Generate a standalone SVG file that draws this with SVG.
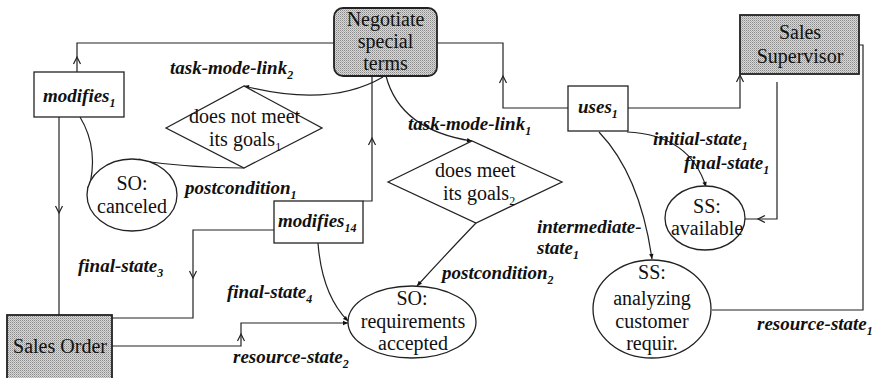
<svg xmlns="http://www.w3.org/2000/svg" width="879" height="378" viewBox="0 0 879 378">
<style>
.box{fill:#fff;stroke:#222;stroke-width:1.3}
.gray{fill:url(#stip);stroke:#222;stroke-width:1.8}
.t{font-family:"Liberation Serif","Times New Roman",serif;font-size:20px;fill:#111}
.i{font-family:"Liberation Serif","Times New Roman",serif;font-size:19px;font-style:italic;font-weight:bold;fill:#111}
.sub{font-size:12px}
.ln{fill:none;stroke:#222;stroke-width:1.2}
.ch{fill:none;stroke:none}
</style>
<defs>
<pattern id="stip" width="2" height="2" patternUnits="userSpaceOnUse">
<rect width="2" height="2" fill="#d8d8d8"/>
<rect width="1" height="1" fill="#8a8a8a"/>
<rect x="1" y="1" width="1" height="1" fill="#b0b0b0"/>
</pattern>
<marker id="chev" markerUnits="userSpaceOnUse" markerWidth="12" markerHeight="12" viewBox="-8 -6 10 12" refX="0" refY="0" orient="auto">
<path d="M-7,-3.5 L0,0 L-7,3.5" fill="none" stroke="#222" stroke-width="1.2"/>
</marker>
<marker id="dot" markerUnits="userSpaceOnUse" markerWidth="8" markerHeight="8" viewBox="-6 -4 8 8" refX="0" refY="0" orient="auto">
<path d="M-5,-2.2 L0,0 L-5,2.2 z" fill="#111"/>
</marker>
</defs>
<rect width="879" height="378" fill="#fff"/>

<g id="connectors">
<path class="ln" d="M77 72 V43 H334"/>
<path class="ch" d="M77 64 V57" marker-end="url(#chev)"/>
<path class="ln" d="M568 108 H503 V43 H437"/>
<path class="ch" d="M503 84 V76" marker-end="url(#chev)"/>
<path class="ln" d="M628 108 H740 V75" marker-end="url(#chev)"/>
<path class="ln" d="M777 82 V219 H745"/>
<path class="ch" d="M766 219 H758" marker-end="url(#chev)"/>
<path class="ln" d="M859 45 H863 V310 H712"/>
<path class="ln" d="M59 117 V315"/>
<path class="ch" d="M59 205 V213" marker-end="url(#chev)"/>
<path class="ln" d="M112 318 H193 V230 H274"/>
<path class="ch" d="M193 270 V278" marker-end="url(#chev)"/>
<path class="ln" d="M112 346 H241 V323 H348" marker-end="url(#dot)"/>
<path class="ch" d="M241 342 V334" marker-end="url(#chev)"/>
<path class="ln" d="M363 201 H372 V76"/>
<path class="ch" d="M372 146 V138" marker-end="url(#chev)"/>
<path class="ln" d="M383 77 Q330 108 244 86" marker-end="url(#dot)"/>
<path class="ln" d="M244 168 Q190 168 135 160" marker-end="url(#dot)"/>
<path class="ln" d="M80 117 Q100 150 88 192" marker-end="url(#dot)"/>
<path class="ln" d="M627 132 Q690 135 706 187" marker-end="url(#dot)"/>
<path class="ln" d="M599 132 Q640 175 652 259" marker-end="url(#dot)"/>
<path class="ln" d="M318 243 Q322 295 348 321" marker-end="url(#dot)"/>
<path class="ln" d="M386 76 Q400 130 472 141" marker-end="url(#dot)"/>
<path class="ln" d="M476 223 Q450 250 417 286" marker-end="url(#dot)"/>
</g>

<g id="labels">
<text class="i" x="170" y="74">task-mode-link<tspan class="sub" dy="5">2</tspan></text>
<text class="i" x="185" y="194">postcondition<tspan class="sub" dy="5">1</tspan></text>
<text class="i" x="408" y="130">task-mode-link<tspan class="sub" dy="5">1</tspan></text>
<text class="i" x="653" y="145">initial-state<tspan class="sub" dy="5">1</tspan></text>
<text class="i" x="684" y="169">final-state<tspan class="sub" dy="5">1</tspan></text>
<text class="i" x="537" y="233">intermediate-</text>
<text class="i" x="537" y="254">state<tspan class="sub" dy="5">1</tspan></text>
<text class="i" x="442" y="279">postcondition<tspan class="sub" dy="5">2</tspan></text>
<text class="i" x="78" y="272">final-state<tspan class="sub" dy="5">3</tspan></text>
<text class="i" x="227" y="298">final-state<tspan class="sub" dy="5">4</tspan></text>
<text class="i" x="233" y="363">resource-state<tspan class="sub" dy="5">2</tspan></text>
<text class="i" x="757" y="330">resource-state<tspan class="sub" dy="5">1</tspan></text>
</g>

<g id="negotiate">
<rect class="gray" x="334" y="8" width="103" height="68" rx="9"/>
<text class="t" x="385.5" y="26" text-anchor="middle">Negotiate</text>
<text class="t" x="385.5" y="48" text-anchor="middle">special</text>
<text class="t" x="385.5" y="70" text-anchor="middle">terms</text>
</g>
<g id="sales-supervisor">
<rect class="gray" x="740" y="15" width="119" height="59"/>
<text class="t" x="800" y="39" text-anchor="middle">Sales</text>
<text class="t" x="800" y="63" text-anchor="middle">Supervisor</text>
</g>
<g id="sales-order">
<rect class="gray" x="7" y="315" width="105" height="72"/>
<text class="t" x="60" y="353" text-anchor="middle">Sales Order</text>
</g>
<g id="modifies1">
<rect class="box" x="34" y="72" width="90" height="45"/>
<text class="i" x="43" y="102">modifies<tspan class="sub" dy="5">1</tspan></text>
</g>
<g id="uses1">
<rect class="box" x="568" y="86" width="60" height="45"/>
<text class="i" x="578" y="113">uses<tspan class="sub" dy="5">1</tspan></text>
</g>
<g id="modifies14">
<rect class="box" x="274" y="201" width="89" height="42"/>
<text class="i" x="278" y="227">modifies<tspan class="sub" dy="5">14</tspan></text>
</g>
<g id="does-not-meet">
<polygon class="box" points="166,128 244,86 322,128 244,168"/>
<text class="t" x="189" y="123">does not meet</text>
<text class="t" x="209" y="146">its goals<tspan class="sub" dy="5">1</tspan></text>
</g>
<g id="does-meet">
<polygon class="box" points="388,182 472,141 562,182 476,223"/>
<text class="t" x="435" y="177">does meet</text>
<text class="t" x="443" y="200">its goals<tspan class="sub" dy="5">2</tspan></text>
</g>
<g id="so-canceled">
<ellipse class="box" cx="132" cy="195" rx="45" ry="36"/>
<text class="t" x="132" y="190" text-anchor="middle">SO:</text>
<text class="t" x="132" y="213" text-anchor="middle">canceled</text>
</g>
<g id="so-requirements">
<ellipse class="box" cx="412" cy="322" rx="64" ry="36"/>
<text class="t" x="412" y="305" text-anchor="middle">SO:</text>
<text class="t" x="413" y="328" text-anchor="middle">requirements</text>
<text class="t" x="413" y="350" text-anchor="middle">accepted</text>
</g>
<g id="ss-available">
<ellipse class="box" cx="705" cy="218" rx="40" ry="32"/>
<text class="t" x="707" y="213" text-anchor="middle">SS:</text>
<text class="t" x="707" y="235" text-anchor="middle">available</text>
</g>
<g id="ss-analyzing">
<ellipse class="box" cx="652" cy="309" rx="59" ry="49"/>
<text class="t" x="652" y="279" text-anchor="middle">SS:</text>
<text class="t" x="652" y="305" text-anchor="middle">analyzing</text>
<text class="t" x="652" y="328" text-anchor="middle">customer</text>
<text class="t" x="652" y="350" text-anchor="middle">requir.</text>
</g>
</svg>
